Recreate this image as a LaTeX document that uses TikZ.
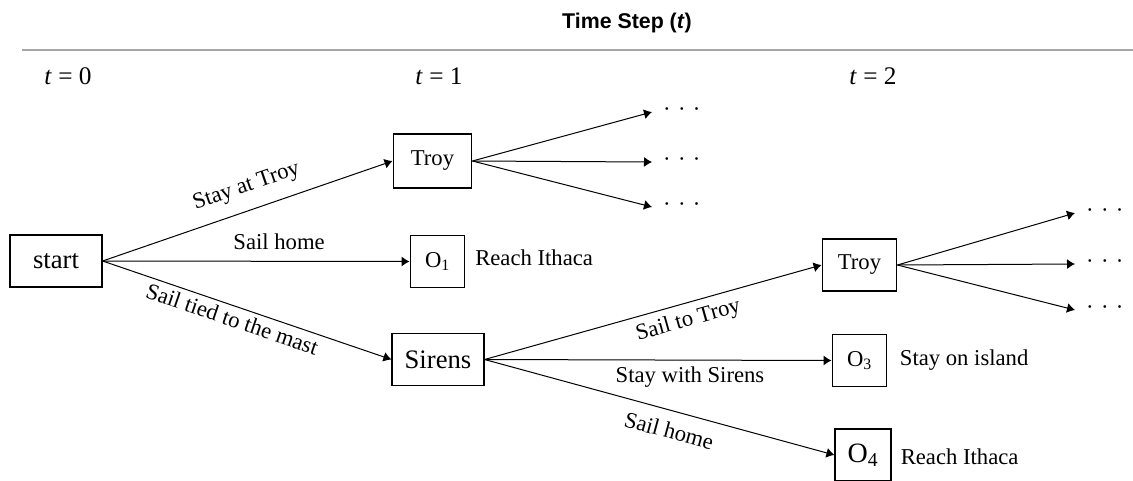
\documentclass[tikz,border=0pt]{standalone}
\usepackage{fontspec}
\setmainfont{Liberation Serif}
\newfontfamily\headfont{Liberation Sans}
\usetikzlibrary{arrows.meta,positioning}
\tikzset{every picture/.style={line width=0.75pt}}

\begin{document}
\begin{tikzpicture}[x=0.75pt,y=0.75pt,yscale=-1,xscale=1,
	box/.style={draw, line width=0.9pt, inner sep=0pt, minimum height=39pt, font=\fontsize{17}{20}\selectfont},
	bigbox/.style={box, font=\fontsize{20}{24}\selectfont},
	move/.style={-{Latex[length=6pt,width=7.5pt]}},
	lbl/.style={font=\fontsize{17}{20}\selectfont, inner sep=1pt},
	note/.style={font=\fontsize{17}{20}\selectfont, inner sep=0pt},
	more/.style={font=\fontsize{17}{20}\selectfont, inner xsep=8pt, inner ysep=0pt, anchor=west},
	tlbl/.style={font=\fontsize{19}{23}\selectfont}]
	\useasboundingbox (0,0) rectangle (1133,480);

	% Text Node
	\node[font={\fontsize{16}{19}\headfont\bfseries}] (title) at (627,23) {Time Step (\textit{t})};
	%Straight Lines
	\draw[black!35, line width=1pt] (22,50) -- (1133,50);
	% Text Node
	\node[tlbl] (tZero) at (68,76) {\textit{t} = 0};
	% Text Node
	\node[tlbl] (tOne) at (439,76) {\textit{t} = 1};
	% Text Node
	\node[tlbl] (tTwo) at (873,76) {\textit{t} = 2};

	%Shape: Rectangle
	\node[bigbox, minimum width=69pt] (start) at (56,261) {start};
	%Shape: Rectangle
	\node[box, minimum width=59pt, minimum height=40.5pt] (troyA) at (432.5,161) {Troy};
	%Shape: Rectangle
	\node[box, minimum width=41pt] (oOne) at (437.5,261.5) {O\textsubscript{1}};
	%Shape: Rectangle
	\node[bigbox, minimum width=69pt] (sirens) at (438,359.5) {Sirens};
	%Shape: Rectangle
	\node[box, minimum width=56pt] (troyB) at (859.5,265) {Troy};
	%Shape: Rectangle
	\node[box, minimum width=41pt] (oThree) at (859.5,360.5) {O\textsubscript{3}};
	%Shape: Rectangle
	\node[box, minimum width=42pt, font=\fontsize{21}{25}\selectfont] (oFour) at (863,455) {O\textsubscript{4}};

	% Text Node
	\node[note, right=7pt of oOne, yshift=3pt] (reachA) {Reach Ithaca};
	% Text Node
	\node[note, right=9pt of oThree] (stayIsland) {Stay on island};
	% Text Node
	\node[note, right=6.5pt of oFour, yshift=-1pt] (reachB) {Reach Ithaca};

	% Text Node
	\node[more] (dotsA1) at (652,112) {·\hspace{5.5pt}·\hspace{5.5pt}·};
	\node[more] (dotsA2) at (652,162) {·\hspace{5.5pt}·\hspace{5.5pt}·};
	\node[more] (dotsA3) at (652,207) {·\hspace{5.5pt}·\hspace{5.5pt}·};
	% Text Node
	\node[more] (dotsB1) at (1075,213) {·\hspace{5.5pt}·\hspace{5.5pt}·};
	\node[more] (dotsB2) at (1075,264) {·\hspace{5.5pt}·\hspace{5.5pt}·};
	\node[more] (dotsB3) at (1075,310) {·\hspace{5.5pt}·\hspace{5.5pt}·};

	%Straight Lines
	\draw[move] (start.east) -- node[lbl, rotate=19, above=9pt, pos=0.51] {Stay at Troy} (troyA.west);
	\draw[move] (start.east) -- node[lbl, above=7.25pt, pos=0.575] {Sail home} (oOne.west);
	\draw[move] (start.east) -- node[lbl, rotate=-18.8, below=2.5pt, pos=0.46] {Sail tied to the mast} (sirens.west);
	%Straight Lines
	\draw[move] (troyA.east) -- (dotsA1.west);
	\draw[move] (troyA.east) -- (dotsA2.west);
	\draw[move] (troyA.east) -- (dotsA3.west);
	%Straight Lines
	\draw[move] (sirens.east) -- node[lbl, rotate=15.6, below=4.4pt, pos=0.595] {Sail to Troy} (troyB.west);
	\draw[move] (sirens.east) -- node[lbl, below=3.5pt, pos=0.592] {Stay with Sirens} (oThree.west);
	\draw[move] (sirens.east) -- node[lbl, rotate=-15.2, below=7.9pt, pos=0.535] {Sail home} (oFour.west);
	%Straight Lines
	\draw[move] (troyB.east) -- (dotsB1.west);
	\draw[move] (troyB.east) -- (dotsB2.west);
	\draw[move] (troyB.east) -- (dotsB3.west);

\end{tikzpicture}
\end{document}
